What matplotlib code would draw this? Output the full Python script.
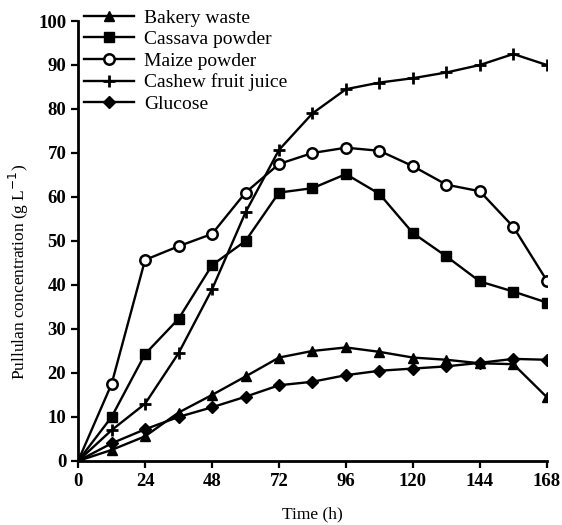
import matplotlib
matplotlib.use("Agg")
import matplotlib.pyplot as plt

plt.rcParams['font.family'] = ['Liberation Serif', 'DejaVu Serif']

time_h = [0, 12, 24, 36, 48, 60, 72, 84, 96, 108, 120, 132, 144, 156, 168]
bakery = [0, 2.5, 5.6, 11, 15, 19.2, 23.5, 25, 25.8, 24.8, 23.5, 23, 22.2, 22, 14.5]
cassava = [0, 10, 24.3, 32.3, 44.5, 50, 61, 62, 65.2, 60.7, 51.8, 46.5, 40.8, 38.5, 36]
maize = [0, 17.5, 45.7, 48.8, 51.6, 61, 67.5, 70, 71.2, 70.5, 67, 62.8, 61.3, 53.2, 41]
cashew = [0, 7, 13, 24.5, 39, 56.5, 70.7, 79, 84.5, 86, 87, 88.3, 90, 92.5, 90]
glucose = [0, 4, 7.2, 10, 12.2, 14.6, 17.2, 18, 19.5, 20.5, 21, 21.5, 22.3, 23.2, 23]

xticks = [0, 24, 48, 72, 96, 120, 144, 168]
yticks = [0, 10, 20, 30, 40, 50, 60, 70, 80, 90, 100]

fig = plt.figure(figsize=(5.62, 5.25), dpi=100)
ax = fig.add_axes([0.139, 0.122, 0.834, 0.838])

kw = dict(color='black', lw=1.7)
ax.plot(time_h, bakery, marker='^', ms=7.5, label='Bakery waste', **kw)
ax.plot(time_h, cassava, marker='s', ms=7.5, label='Cassava powder', **kw)
ax.plot(time_h, maize, marker='o', ms=7.5, mfc='white', mew=1.8, label='Maize powder', **kw)
ax.plot(time_h, cashew, marker='+', ms=9, mew=2, label='Cashew fruit juice', **kw)
ax.plot(time_h, glucose, marker='D', ms=6.5, label='Glucose', **kw)

ax.set_xlim(0, 168)
ax.set_ylim(0, 100)
ax.set_xticks(xticks)
ax.set_yticks(yticks)
for s in ['top', 'right']:
    ax.spines[s].set_visible(False)
for s in ['left', 'bottom']:
    ax.spines[s].set_linewidth(2)
ax.tick_params(direction='out', width=1.6, length=5, labelsize=13.5)
for lab in ax.get_xticklabels() + ax.get_yticklabels():
    lab.set_fontweight('bold')
ax.set_xlabel('Time (h)', fontsize=12.5, labelpad=12)
ax.set_ylabel('Pullulan concentration (g L$^{-1}$)', fontsize=12.5)
ax.yaxis.set_label_coords(-0.1, 0.43)

leg = ax.legend(loc='upper left', bbox_to_anchor=(-0.005, 1.045), frameon=False,
                fontsize=14, handlelength=2.6, labelspacing=0.2,
                borderaxespad=0.0, handletextpad=0.5)

fig.savefig('out.png', dpi=100)
